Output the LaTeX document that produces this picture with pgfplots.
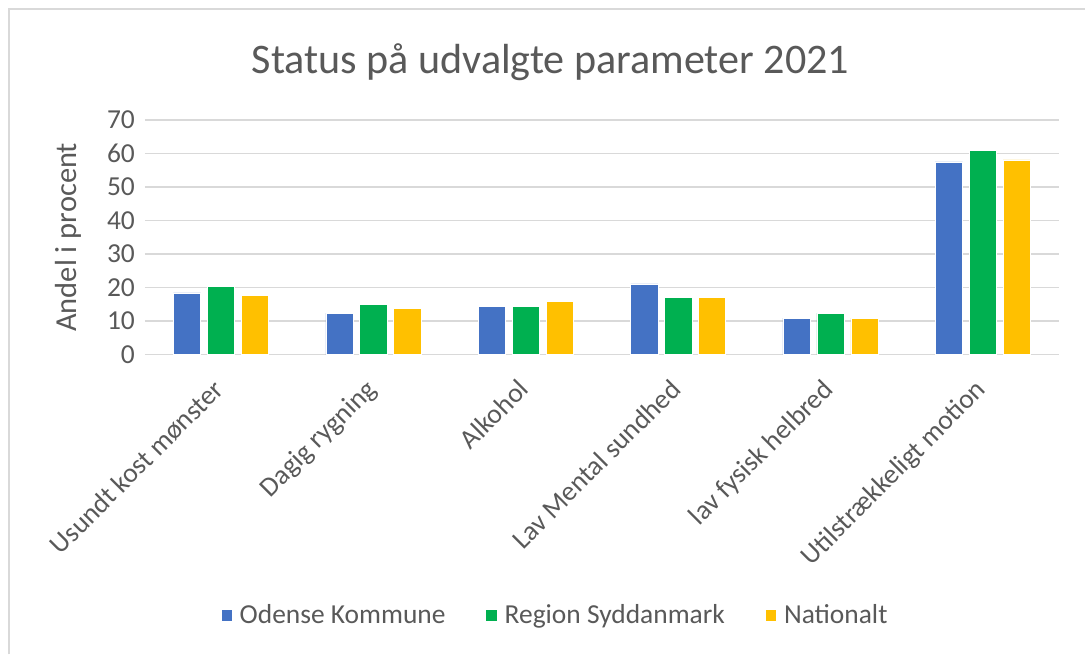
\documentclass[border=0pt]{standalone}
\usepackage{pgfplots}
\pgfplotsset{compat=1.18}
\usepackage{fontspec}
\setmainfont{Carlito}
\definecolor{cBlue}{HTML}{4472C4}
\definecolor{cGreen}{HTML}{00B050}
\definecolor{cYellow}{HTML}{FFC000}
\definecolor{cText}{HTML}{595959}
\definecolor{cGrid}{HTML}{D9D9D9}
\begin{document}
\begin{tikzpicture}
\path (0,0) rectangle (814.5pt,491.25pt);
\draw[cGrid, line width=1.5pt] (6.75pt,0) -- (6.75pt,484.5pt) -- (814.5pt,484.5pt);
\begin{axis}[
  at={(108.75pt,225pt)}, anchor=south west,
  scale only axis, width=686.25pt, height=176.25pt,
  ybar=5pt, bar width=20.5pt,
  xmin=-0.5, xmax=5.5, ymin=0, ymax=70,
  xtick=data,
  xticklabels={Usundt kost mønster, Dagig rygning, Alkohol, Lav Mental sundhed, lav fysisk helbred, Utilstrækkeligt motion},
  ytick={0,10,...,70},
  /pgf/number format/assume math mode=true,
  axis line style={draw=none},
  axis x line*=bottom,
  tick style={draw=none},
  ymajorgrids, grid style={cGrid, line width=1pt},
  extra y ticks={0}, extra y tick style={grid style={cGrid, line width=1.2pt}, yticklabels={}},
  ticklabel style={font=\fontsize{20.6pt}{24pt}\selectfont, text=cText},
  yticklabel style={anchor=east, xshift=-4pt},
  xticklabel style={xshift=-7pt, yshift=-10pt, rotate=45, anchor=north east, inner sep=2pt},
  title={Status på udvalgte parameter 2021},
  title style={at={(0.4437,1.212)}, anchor=center, font=\fontsize{31.6pt}{36pt}\selectfont, text=cText},
  ylabel={Andel i procent},
  ylabel style={at={(-0.0842,0.5)}, anchor=center, rotate=0, font=\fontsize{22.9pt}{26pt}\selectfont, text=cText},
  legend columns=3,
  legend style={at={(0.449,-1.11)}, anchor=center, draw=none, fill=none,
    font=\fontsize{20.6pt}{24pt}\selectfont, text=cText,
    /tikz/every even column/.append style={column sep=28pt}},
  legend image code/.code={\fill[#1] (0pt,-4.5pt) rectangle (8.5pt,4.5pt); \path (12pt,0pt);},
]
\addplot[fill=cBlue, draw=white, line width=0.4pt] coordinates {(0,18.4) (1,12.4) (2,14.4) (3,21.1) (4,10.9) (5,57.5)};
\addplot[fill=cGreen, draw=white, line width=0.4pt] coordinates {(0,20.4) (1,15.1) (2,14.4) (3,17.0) (4,12.4) (5,60.9)};
\addplot[fill=cYellow, draw=white, line width=0.4pt] coordinates {(0,17.7) (1,13.7) (2,15.8) (3,17.0) (4,10.9) (5,58.1)};
\legend{Odense Kommune, Region Syddanmark, Nationalt}
\end{axis}
\end{tikzpicture}
\end{document}
